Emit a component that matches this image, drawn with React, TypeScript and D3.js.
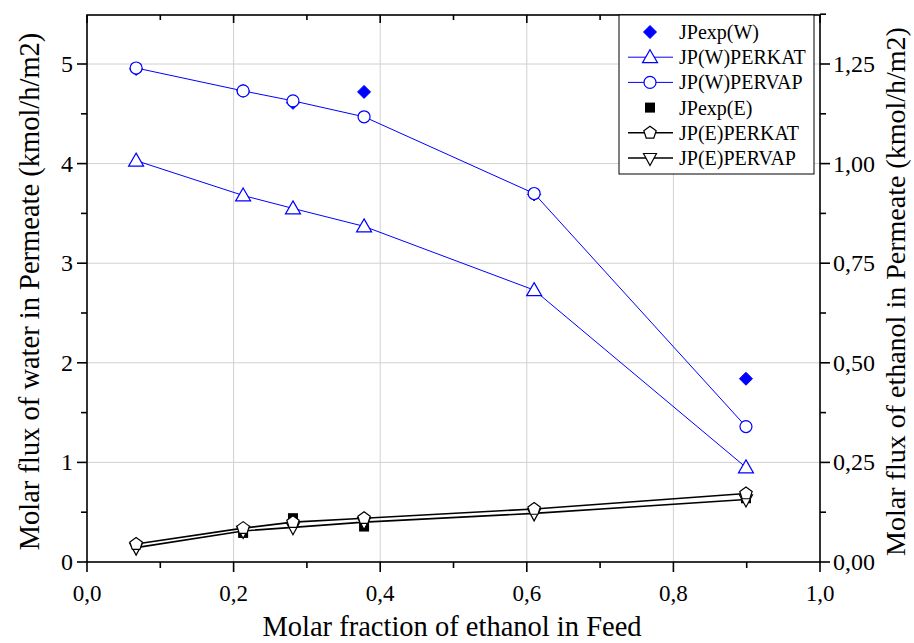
import React from "react";
import * as d3 from "d3";

const xFeed = [0.067, 0.213, 0.281, 0.378, 0.61, 0.899];
const jpExpW = [4.95, 4.73, 4.61, 4.72, 3.69, 1.84];
const jpWPerkat = [4.03, 3.68, 3.55, 3.37, 2.73, 0.95];
const jpWPervap = [4.96, 4.73, 4.63, 4.47, 3.7, 1.36];
const xExpE = [0.213, 0.281, 0.378, 0.899];
const jpExpE = [0.073, 0.11, 0.089, 0.16];
const jpEPerkat = [0.045, 0.085, 0.1, 0.11, 0.133, 0.172];
const jpEPervap = [0.036, 0.078, 0.087, 0.1, 0.122, 0.157];

const xTicks = [0, 0.2, 0.4, 0.6, 0.8, 1.0];
const xMinor = [0.1, 0.3, 0.5, 0.7, 0.9];
const yLeftTicks = [0, 1, 2, 3, 4, 5];
const yLeftMinor = [0.5, 1.5, 2.5, 3.5, 4.5];
const yRightTicks = [0, 0.25, 0.5, 0.75, 1.0, 1.25];
const yRightMinor = [0.125, 0.375, 0.625, 0.875, 1.125, 1.375];

const legendItems = [
  { label: "JPexp(W)", color: "#0000ff", marker: "diamond", line: false },
  { label: "JP(W)PERKAT", color: "#0000ff", marker: "triangle", line: true },
  { label: "JP(W)PERVAP", color: "#0000ff", marker: "circle", line: true },
  { label: "JPexp(E)", color: "#000000", marker: "square", line: false },
  { label: "JP(E)PERKAT", color: "#000000", marker: "pentagon", line: true },
  { label: "JP(E)PERVAP", color: "#000000", marker: "triangleDown", line: true },
];

const L = 87, R = 820, T = 15, B = 562;
const fmt1 = (v: number) => v.toFixed(1).replace(".", ",");
const fmt2 = (v: number) => v.toFixed(2).replace(".", ",");

function Marker({ type, x, y, color }: { type: string; x: number; y: number; color: string }) {
  const sw = 1.2;
  if (type === "circle") return <circle cx={x} cy={y} r={6} fill="white" stroke={color} strokeWidth={sw} />;
  if (type === "diamond") return <path d={`M${x},${y - 6.5}L${x + 6.5},${y}L${x},${y + 6.5}L${x - 6.5},${y}Z`} fill={color} stroke={color} strokeWidth={1} />;
  if (type === "square") return <rect x={x - 5} y={y - 5} width={10} height={10} fill={color} />;
  if (type === "triangle") return <path d={`M${x},${y - 7.5}L${x + 7.5},${y + 5.5}L${x - 7.5},${y + 5.5}Z`} fill="white" stroke={color} strokeWidth={sw} />;
  if (type === "triangleDown") return <path d={`M${x},${y + 7.5}L${x + 6.5},${y - 4.5}L${x - 6.5},${y - 4.5}Z`} fill="white" stroke={color} strokeWidth={sw} />;
  if (type === "pentagon") {
    const r = 6.5;
    const pts = d3.range(5).map((i) => {
      const a = -Math.PI / 2 + (i * 2 * Math.PI) / 5;
      return `${x + r * Math.cos(a)},${y + r * Math.sin(a)}`;
    });
    return <path d={`M${pts.join("L")}Z`} fill="white" stroke={color} strokeWidth={sw} />;
  }
  return null;
}

export default function App() {
  const x = d3.scaleLinear().domain([0, 1]).range([L, R]);
  const yL = d3.scaleLinear().domain([0, 5]).range([B, 64]);
  const yR = d3.scaleLinear().domain([0, 1.25]).range([B, 64]);
  const line = (xs: number[], ys: number[], ys2: d3.ScaleLinear<number, number>) =>
    d3.line<number>().x((_, i) => x(xs[i])).y((d) => ys2(d))(ys) || "";

  const font = '"Liberation Serif", serif';
  return (
    <svg width={914} height={643} style={{ position: "absolute", left: 0, top: 0, background: "white", fontFamily: font }}>
      <rect x={0} y={0} width={914} height={643} fill="white" />
      {xTicks.slice(1, -1).map((t) => (
        <line key={"gx" + t} x1={x(t)} x2={x(t)} y1={T} y2={B} stroke="#d0d0d0" strokeWidth={1} />
      ))}
      {yLeftTicks.slice(1).map((t) => (
        <line key={"gy" + t} x1={L} x2={R} y1={yL(t)} y2={yL(t)} stroke="#d0d0d0" strokeWidth={1} />
      ))}
      <path d={line(xFeed, jpWPerkat, yL)} fill="none" stroke="#0000ff" strokeWidth={1} />
      <path d={line(xFeed, jpWPervap, yL)} fill="none" stroke="#0000ff" strokeWidth={1} />
      <path d={line(xFeed, jpEPerkat, yR)} fill="none" stroke="#000" strokeWidth={1.6} />
      <path d={line(xFeed, jpEPervap, yR)} fill="none" stroke="#000" strokeWidth={1.6} />
      {jpExpW.map((v, i) => <Marker key={"ew" + i} type="diamond" x={x(xFeed[i])} y={yL(v)} color="#0000ff" />)}
      {jpWPerkat.map((v, i) => <Marker key={"wk" + i} type="triangle" x={x(xFeed[i])} y={yL(v)} color="#0000ff" />)}
      {jpWPervap.map((v, i) => <Marker key={"wv" + i} type="circle" x={x(xFeed[i])} y={yL(v)} color="#0000ff" />)}
      {jpExpE.map((v, i) => <Marker key={"ee" + i} type="square" x={x(xExpE[i])} y={yR(v)} color="#000" />)}
      {jpEPervap.map((v, i) => <Marker key={"ev" + i} type="triangleDown" x={x(xFeed[i])} y={yR(v)} color="#000" />)}
      {jpEPerkat.map((v, i) => <Marker key={"ek" + i} type="pentagon" x={x(xFeed[i])} y={yR(v)} color="#000" />)}
      <rect x={L} y={T} width={R - L} height={B - T} fill="none" stroke="#000" strokeWidth={1.6} />
      {xTicks.map((t) => (
        <g key={"xt" + t}>
          <line x1={x(t)} x2={x(t)} y1={B} y2={B + 10} stroke="#000" strokeWidth={1.6} />
          <line x1={x(t)} x2={x(t)} y1={T} y2={T + 8} stroke="#000" strokeWidth={1.6} />
          <text x={x(t)} y={B + 39} fontSize={23} textAnchor="middle" fontFamily={font}>{fmt1(t)}</text>
        </g>
      ))}
      {xMinor.map((t) => (
        <g key={"xm" + t}>
          <line x1={x(t)} x2={x(t)} y1={B} y2={B + 6} stroke="#000" strokeWidth={1.6} />
          <line x1={x(t)} x2={x(t)} y1={T} y2={T + 5} stroke="#000" strokeWidth={1.6} />
        </g>
      ))}
      {yLeftTicks.map((t) => (
        <g key={"yl" + t}>
          <line x1={L - 10} x2={L} y1={yL(t)} y2={yL(t)} stroke="#000" strokeWidth={1.6} />
          <text x={L - 14} y={yL(t) + 8} fontSize={24} textAnchor="end" fontFamily={font}>{t}</text>
        </g>
      ))}
      {yLeftMinor.map((t) => (
        <line key={"ylm" + t} x1={L - 6} x2={L} y1={yL(t)} y2={yL(t)} stroke="#000" strokeWidth={1.6} />
      ))}
      {yRightTicks.map((t) => (
        <g key={"yr" + t}>
          <line x1={R} x2={R + 10} y1={yR(t)} y2={yR(t)} stroke="#000" strokeWidth={1.6} />
          <text x={R + 13} y={yR(t) + 8} fontSize={24} textAnchor="start" fontFamily={font}>{fmt2(t)}</text>
        </g>
      ))}
      {yRightMinor.map((t) => (
        <line key={"yrm" + t} x1={R} x2={R + 6} y1={yR(t)} y2={yR(t)} stroke="#000" strokeWidth={1.6} />
      ))}
      <text x={452} y={636} fontSize={28.5} textAnchor="middle" fontFamily={font}>Molar fraction of ethanol in Feed</text>
      <text transform={`translate(39,${(T + B) / 2 + 3}) rotate(-90)`} fontSize={28.5} textAnchor="middle" fontFamily={font}>Molar flux of water in Permeate (kmol/h/m2)</text>
      <text transform={`translate(905,${(T + B) / 2 + 3}) rotate(-90)`} fontSize={28} textAnchor="middle" fontFamily={font}>Molar flux of ethanol in Permeate (kmol/h/m2)</text>
      <rect x={619} y={T} width={195} height={159} fill="white" stroke="#000" strokeWidth={1} />
      {legendItems.map((it, i) => {
        const cy = 32 + i * 25.2;
        return (
          <g key={it.label}>
            {it.line && <line x1={628} x2={673} y1={cy} y2={cy} stroke={it.color} strokeWidth={it.color === "#000000" ? 1.6 : 1} />}
            <Marker type={it.marker} x={650} y={cy} color={it.color} />
            <text x={679} y={cy + 7} fontSize={20} fontFamily={font}>{it.label}</text>
          </g>
        );
      })}
    </svg>
  );
}
